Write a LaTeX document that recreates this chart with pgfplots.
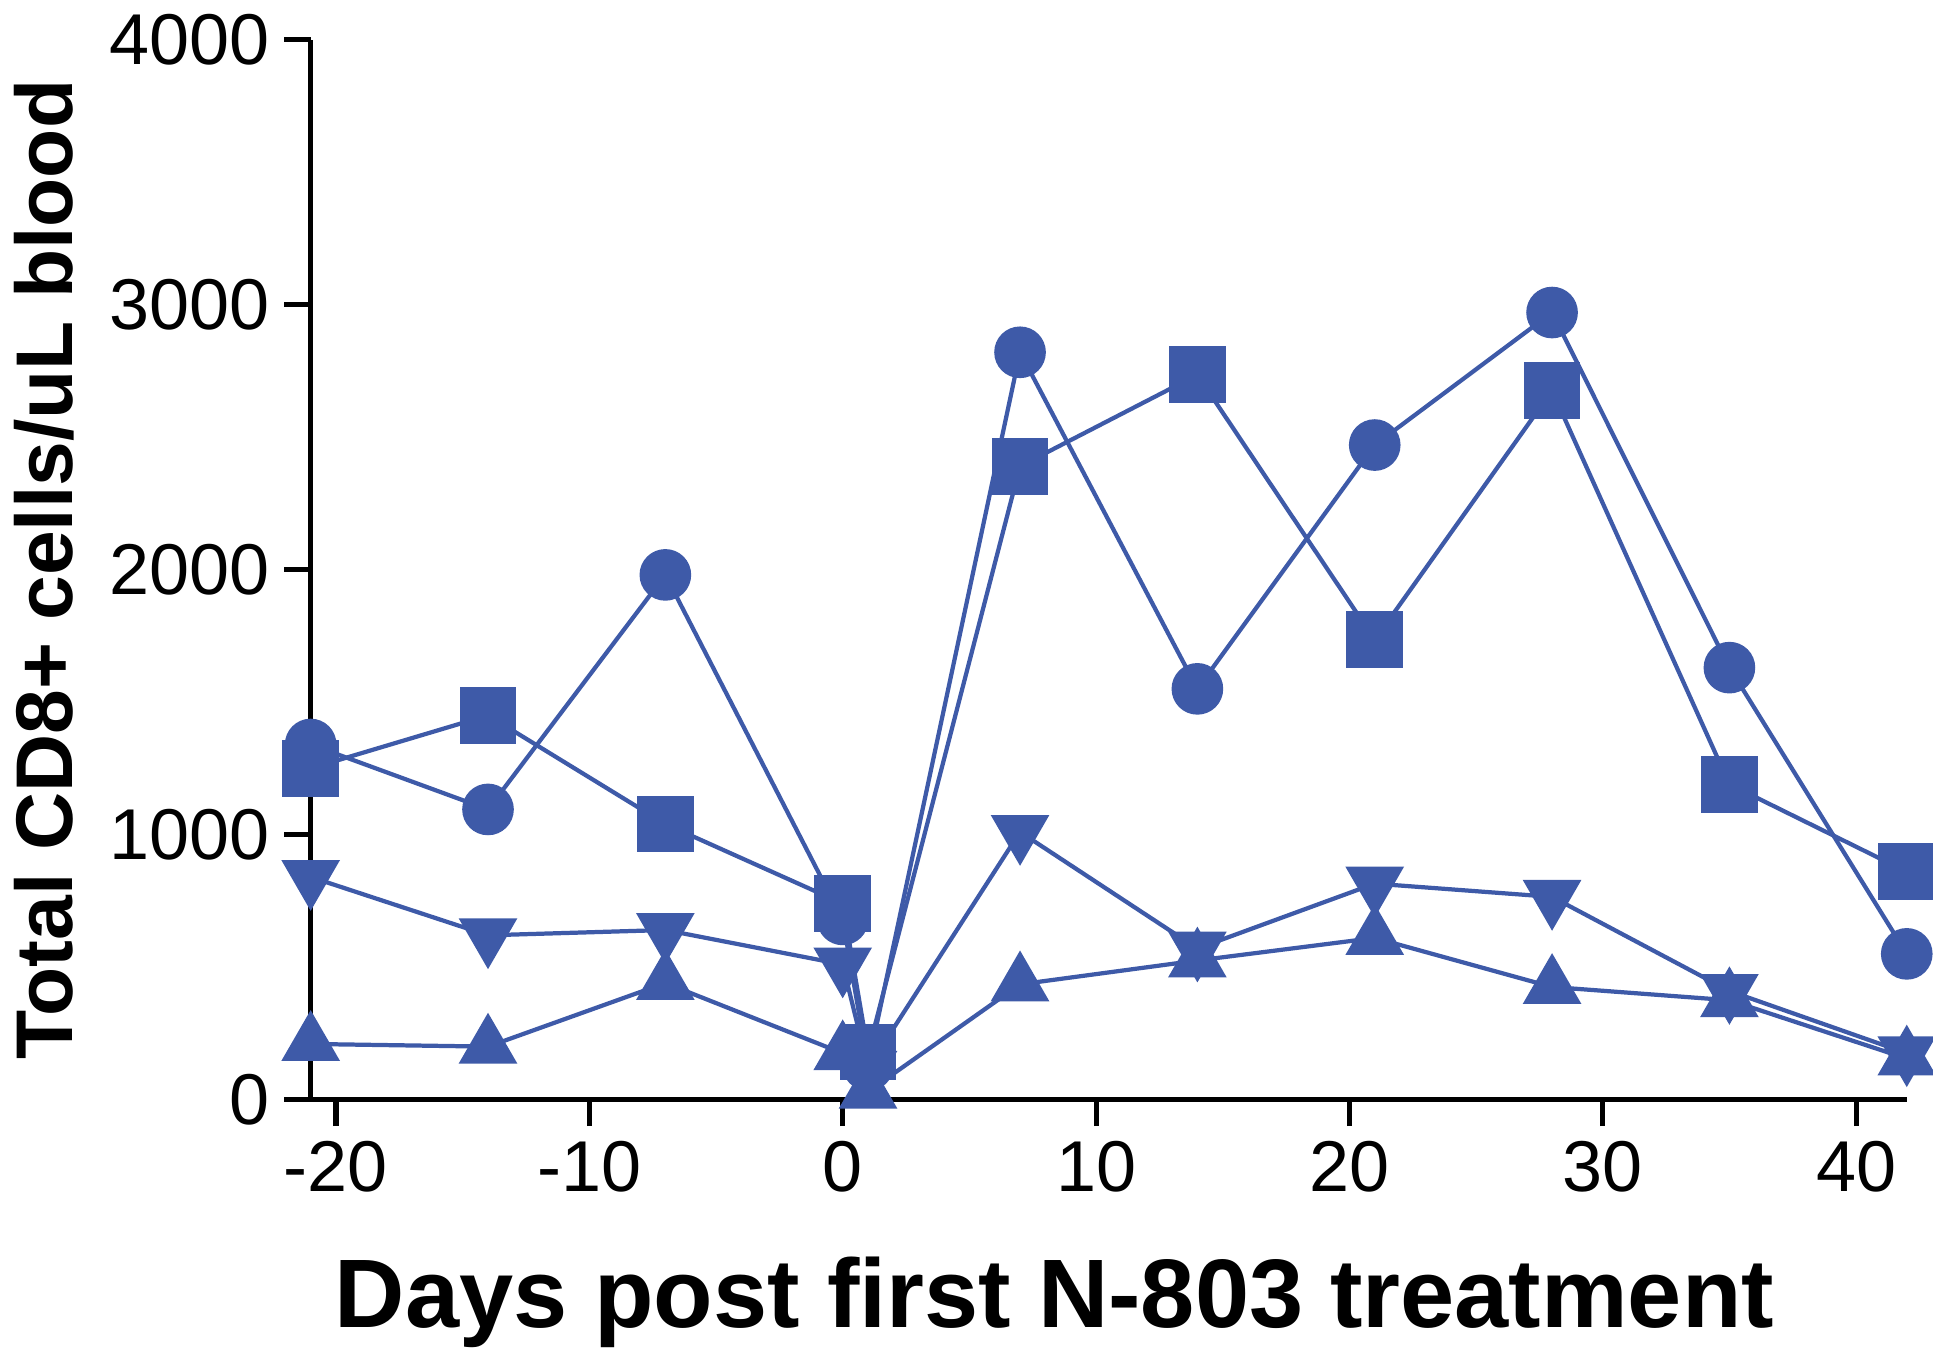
\documentclass[border=0pt]{standalone}
\usepackage{pgfplots}
\pgfplotsset{compat=1.18}
\usepackage{fontspec}
\setmainfont{Liberation Sans}
\definecolor{mkblue}{RGB}{62,90,168}

\begin{document}
\begin{tikzpicture}
\begin{axis}[
    scale only axis,
    width=13.25cm, height=8.8cm,
    xmin=-21, xmax=42, ymin=0, ymax=4000,
    axis x line=bottom, axis y line=left,
    axis line style={line width=1.2pt,-},
    xtick={-20,-10,...,40}, ytick={0,1000,...,4000},
    tick style={line width=1.2pt,black},
    major tick length=0.22cm,
    tick align=outside,
    /pgf/number format/assume math mode=true,
    /pgf/number format/.cd, 1000 sep={}, /pgfplots/.cd,
    ticklabel style={font=\fontsize{17}{20}\selectfont},
    xlabel={\fontsize{23}{26}\selectfont\bfseries Days post first N-803 treatment},
    ylabel={\fontsize{19}{22}\selectfont\bfseries Total CD8+ cells/uL blood},
    xlabel style={yshift=-0.3cm, xshift=-0.45cm},
    ylabel style={yshift=0.05cm},
    clip=false,
    every axis plot/.append style={mkblue, line width=1pt, mark options={solid, fill=mkblue, draw=mkblue}},
]
% circles
\addplot[mark=*, mark size=5.6pt] coordinates {
  (-21,1340) (-14,1095) (-7,1980) (0,680) (1,130) (7,2820)
  (14,1550) (21,2470) (28,2970) (35,1630) (42,550)
};
% squares
\addplot[mark=square*, mark size=6.2pt] coordinates {
  (-21,1250) (-14,1450) (-7,1040) (0,740) (1,180) (7,2390)
  (14,2735) (21,1735) (28,2675) (35,1190) (42,860)
};
% down triangles
\addplot[mark=triangle*, mark size=7pt, mark options={rotate=180}] coordinates {
  (-21,840) (-14,620) (-7,640) (0,510) (1,120) (7,1010)
  (14,570) (21,815) (28,765) (35,410) (42,175)
};
% up triangles
\addplot[mark=triangle*, mark size=7pt] coordinates {
  (-21,210) (-14,200) (-7,440) (0,175) (1,30) (7,435)
  (14,525) (21,610) (28,425) (35,375) (42,155)
};
\end{axis}
\end{tikzpicture}
\end{document}
